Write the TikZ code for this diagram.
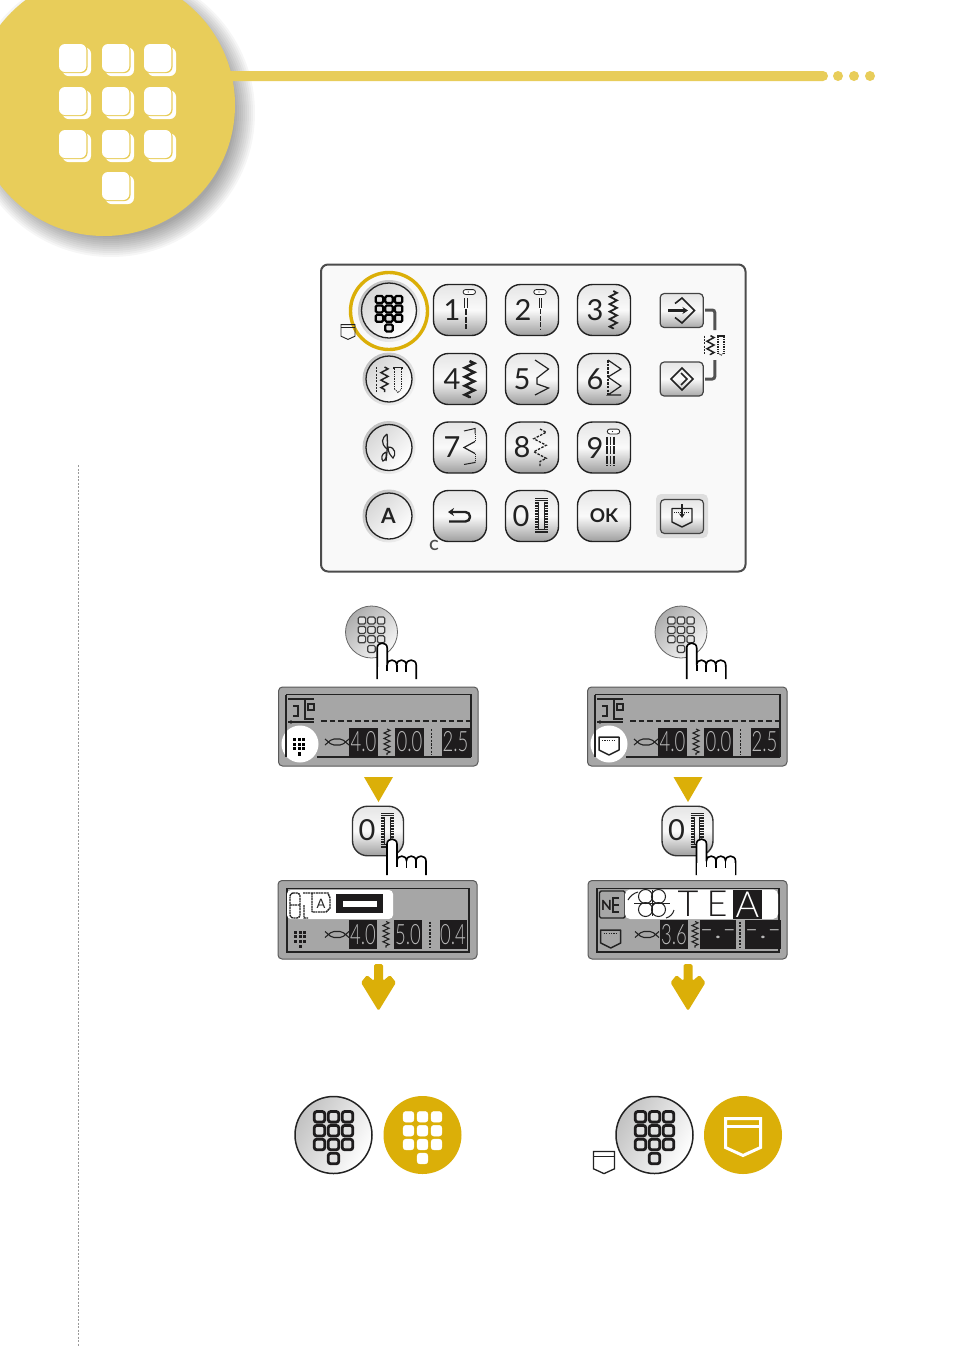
\documentclass[tikz,border=0pt]{standalone}
\usepackage{fontspec}
\setmainfont{Lato}
\newfontfamily\thinfont{Lato}[UprightFont=* Light]
\usetikzlibrary{arrows.meta,decorations.pathmorphing}
\definecolor{hdyellow}{HTML}{E8CD5A}
\definecolor{gold}{HTML}{DBAF08}
\definecolor{inkdark}{HTML}{222222}
\definecolor{lcdgrey}{HTML}{A6A6A6}
\definecolor{lcdblack}{HTML}{1E1C1D}
\newcommand{\keyfont}{\fontsize{29}{29}\selectfont}
\newcommand{\lcdnum}[1]{\scalebox{.66}[1]{\thinfont\fontsize{28}{28}\selectfont #1}}
\newcommand{\lcdbar}[1]{\scalebox{1.35}[1]{\thinfont\fontsize{28}{28}\selectfont #1}}
\tikzset{
  sqbtn/.style={draw=inkdark,line width=1.4pt,rounded corners=15pt,minimum width=53pt,minimum height=51pt,top color=white!90!black,bottom color=white!62!black,middle color=white!98!black,inner sep=0pt},
  rdbtn/.style={circle,draw=inkdark,line width=1.3pt,minimum size=#1,shading=axis,left color=white!84!black,right color=white,shading angle=45,inner sep=0pt},
  halo/.style={circle,shading=axis,left color=white!76!black,right color=white!94!black,shading angle=45,minimum size=#1,inner sep=0pt},
  smallbtn/.style={draw=inkdark!85,line width=1.2pt,rounded corners=4pt,minimum width=43pt,minimum height=34pt,top color=white!90!black,bottom color=white!66!black,middle color=white!98!black,inner sep=0pt},
  keydigit/.style={font=\keyfont,inner sep=0pt,text=inkdark},
  lcdbody/.style={draw=black!65,line width=1pt,fill=lcdgrey,rounded corners=4pt},
  lcdinner/.style={draw=inkdark,line width=1.1pt},
  lcdblock/.style={fill=lcdblack,text=white!72!black,minimum width=#1,minimum height=29pt,inner sep=0pt},
  zig/.style 2 args={decorate,decoration={zigzag,segment length=#1,amplitude=#2}},
  keypad/.pic={
    \foreach \cx/\cy in {-14/-17.7,0/-17.7,14/-17.7,-14/-3.8,0/-3.8,14/-3.8,-14/10,0/10,14/10,0/24}
      \draw[pic actions,rounded corners=2.6pt] (\cx-5.3,\cy-5.3) rectangle (\cx+5.3,\cy+5.3);
  },
  keypadsmall/.pic={
    \foreach \cx/\cy in {-9.6/-12,0/-12,9.6/-12,-9.6/-2.6,0/-2.6,9.6/-2.6,-9.6/6.8,0/6.8,9.6/6.8,0/16.4}
      \draw[pic actions,rounded corners=1.4pt] (\cx-3.7,\cy-3.5) rectangle (\cx+3.7,\cy+3.5);
  },
  pocket/.pic={
    \draw[pic actions,line join=miter] (-17.5,-16) -- (17.5,-16) -- (17.5,13) -- (0,21) -- (-17.5,13) -- cycle;
    \draw[pic actions] (-17.5,-8) -- (17.5,-8);
  },
  needlepill/.pic={\draw[inkdark,line width=.8pt,fill=white,rounded corners=2.4pt] (-6.2,-2.4) rectangle (6.2,2.4);
    \fill[inkdark] (-1,0) circle[radius=.6pt];},
  stitchmode/.pic={
    \draw[inkdark,line width=1.2pt,dash pattern=on 2pt off 1.3pt] (-12.5,-12) -- (-12.5,13);
    \draw[inkdark,line width=1.5pt,zig={7.5pt}{3.5pt}] (-4.5,-12) -- (-4.5,13);
    \draw[inkdark,line width=1.6pt] (5,-10) -- (5,-11.5) -- (13,-11.5) -- (13,-10);
    \draw[inkdark,line width=1.6pt,dash pattern=on 1pt off .7pt] (5.5,-10) -- (5.5,10) (12.5,-10) -- (12.5,10);
    \draw[inkdark,line width=.8pt,dash pattern=on 1pt off 1pt] (5.5,10) -- (9,13.5) -- (12.5,10);
  },
  zerohole/.pic={
    \draw[inkdark,line width=1.3pt] (3,-17.6) -- (16,-17.6) (3,-15.4) -- (16,-15.4) (3,13.4) -- (16,13.4) (3,16) -- (16,16);
    \draw[inkdark,line width=3.2pt,dash pattern=on .9pt off .7pt] (4.6,-14.5) -- (4.6,12.5) (14.4,-14.5) -- (14.4,12.5);
    \draw[inkdark,line width=.9pt] (6.6,-14.5) -- (6.6,12.5) (12.4,-14.5) -- (12.4,12.5);
  },
  handpic/.pic={
    \filldraw[black,fill=white,line width=1.6pt,line join=round]
      (0,0) -- (0,-31) .. controls (0,-37.5) and (10,-37.5) .. (10,-31) -- (10,-14)
      .. controls (10,-20.5) and (19.5,-20.5) .. (19.5,-14)
      .. controls (19.5,-20.5) and (29,-20.5) .. (29,-14)
      .. controls (29,-20.5) and (39,-20.5) .. (39,-14) -- (39,0);
    \fill[white] (.8,0) rectangle (38.2,-12);
    \draw[black,line width=1.6pt] (10,-14) -- (10,-8) (19.5,-14) -- (19.5,-7) (29,-14) -- (29,-7);
  },
  xox/.pic={
    \draw[inkdark,line width=1.1pt,rounded corners=2pt] (-12,3) -- (-5,-3) -- (5,-3) -- (12,3) (-12,-3) -- (-5,3) -- (5,3) -- (12,-3);
  },
  lcdzig/.pic={\draw[inkdark,line width=1.1pt,zig={5.4pt}{3pt}] (0,-13) -- (0,13);},
  lcddots/.pic={\draw[inkdark,line width=1.3pt,dash pattern=on 2.2pt off 1.4pt] (0,-13) -- (0,13);},
  minipad/.pic={
    \foreach \px in {-6,-1.3,3.4} \foreach \py in {-6,-1.3,3.4}
      \fill[pic actions] (\px,\py) rectangle (\px+3,\py+3);
    \fill[pic actions] (-1.3,8) rectangle (1.7,11.5);
  },
  footicon/.pic={
    \draw[inkdark,line width=1.5pt] (-13,-12) -- (13,-12) (-8,-5) -- (-3,-5) -- (-3,5) -- (-8,5) (4,-12) -- (4,8) -- (13,8)
      (7,-7) rectangle (13,-1) (-13,11) -- (13,11);
    \fill[inkdark] (-10,11) circle[radius=1.9pt];
  },
  lcdpocket/.pic={
    \draw[inkdark,line width=1.5pt,line join=round] (-10,-8) -- (10,-8) -- (10,5) -- (0,10) -- (-10,5) -- cycle;
    \draw[inkdark,line width=.9pt,dash pattern=on 1.2pt off 1.2pt] (-7,-4.5) -- (7,-4.5);
  }
}
\begin{document}
\begin{tikzpicture}[x=1pt,y=-1pt]
\clip (0,0) rectangle (954,1347);
\fill[white] (0,0) rectangle (954,1347);
% header
\foreach \r in {124,126,...,144}
  \fill[black,opacity=.035] (111,113) circle[radius=\r pt];
\fill[hdyellow,rounded corners=5pt] (200,71) rectangle (828,81);
\fill[hdyellow] (104,105) circle[radius=131pt];
\foreach \dx in {838,854,870}
  \fill[hdyellow] (\dx,76) circle[radius=5pt];
\foreach \kx/\ky in {59/44,102/44,144/44,59/87,102/87,144/87,59/130,102/130,144/130,102/172}{
  \fill[white,rounded corners=6pt] (\kx+3.5,\ky+3.5) rectangle (\kx+32,\ky+32);
  \fill[hdyellow,rounded corners=6pt] (\kx,\ky) rectangle (\kx+28.5,\ky+29);
  \fill[white,rounded corners=6pt] (\kx,\ky) rectangle (\kx+27.3,\ky+28);
}
% margin rule
\draw[black!40,line width=.5pt,dash pattern=on 2pt off 1.5pt] (78,465) -- (78,1347);

% control panel
\draw[black!70,line width=2pt,fill=white!97.5!black,rounded corners=7pt] (321,264.5) rectangle (745.5,571.5);
\node[halo=62pt] (h1) at (389,311) {};
\node[rdbtn=55pt] (mode1) at (389,310.5) {};
\pic[draw=black,fill=white!88!black,line width=2.2pt] at (389,311.5) {keypadsmall};
\draw[gold,line width=3.4pt] (389,311) circle[radius=38.5pt];
\pic[draw=inkdark,line width=.9pt,scale=.4] at (348,331) {pocket};
\foreach \ry/\nm in {379/mode2,447.5/mode3,516/mode4}{
  \node[halo=53pt] (h\nm) at (389,\ry) {};
  \node[rdbtn=46pt] (\nm) at (389,\ry) {};
}
\pic at (389,379) {stitchmode};
\draw[inkdark,line width=1.3pt] (386,461) .. controls (387,452) and (388,445) .. (387,434);
\draw[inkdark,line width=1.2pt] (387,449) .. controls (380,443) and (382,438) .. (387,434);
\draw[inkdark,line width=1.2pt] (388,447) .. controls (396,447) and (396,455) .. (393,458) .. controls (390,455) and (388,452) .. (388,447);
\draw[inkdark,line width=1.2pt] (386,452) .. controls (381,454) and (381,459) .. (383,461) .. controls (386,460) and (387,456) .. (386,452);
\node[font=\bfseries\fontsize{21}{21}\selectfont,text=inkdark,inner sep=0pt] (lblA) at (388.5,516) {A};

\foreach \nm/\lbl/\bx/\by/\off in {b1/1/460/310/-8,b2/2/532/310/-9,b3/3/604/310/-9,b4/4/460/379/-8,b5/5/532/379/-10,b6/6/604/379/-9,b7/7/460/447.5/-8,b8/8/532/447.5/-10,b9/9/604/447.5/-9,b0/0/532/516/-11}{
  \node[sqbtn] (\nm) at (\bx,\by) {};
  \node[keydigit] (t\nm) at (\bx+\off,\by) {\lbl};
}
\node[sqbtn] (back) at (460,516) {};
\node[sqbtn] (ok) at (604,516) {};
\node[font=\bfseries\fontsize{19}{19}\selectfont,text=inkdark,inner sep=0pt] (lblok) at (604,515.5) {OK};
\draw[inkdark,line width=2.4pt,{Stealth[length=6pt,width=8pt]}-,rounded corners=4.5pt] (448,512) -- (470,512) -- (470,521.5) -- (449,521.5);
\node[font=\bfseries\fontsize{14}{14}\selectfont,text=black!70,inner sep=0pt] (lblc) at (434,545) {C};

\begin{scope}[shift={(460,310)}]
  \pic at (9.3,-18) {needlepill};
  \draw[inkdark,line width=1pt] (4.6,-12) -- (4.6,-2.5) (7,-12) -- (7,-2.5);
  \draw[inkdark,line width=1.7pt,dash pattern=on 6pt off 1.5pt] (5.7,-1) -- (5.7,19);
\end{scope}
\begin{scope}[shift={(532,310)}]
  \pic at (8,-18) {needlepill};
  \draw[inkdark,line width=.9pt] (7.3,-12) -- (7.3,-2.5) (9.3,-12) -- (9.3,-2.5);
  \draw[inkdark,line width=1pt,dash pattern=on 5pt off 1.5pt] (8.3,-1) -- (8.3,19);
\end{scope}
\draw[inkdark,line width=1.8pt,zig={7.5pt}{3.6pt}] (613.3,291) -- (613.3,329);
\draw[inkdark,line width=2.6pt,zig={9pt}{4.6pt}] (469.5,361) -- (469.5,398);
\begin{scope}[shift={(532,379)}]
  \draw[inkdark,line width=1.2pt,line join=miter] (3,-19) -- (16.5,-10) -- (5,-1) -- (5,5) -- (16.5,9) -- (3,16);
\end{scope}
\begin{scope}[shift={(604,379)}]
  \draw[inkdark,line width=1.1pt,dash pattern=on 2.5pt off 1.2pt] (4,-19) -- (4,16);
  \draw[inkdark,line width=1.2pt] (4,-19) -- (17,-10) -- (4,-2) -- (17,7) -- (4,16) -- (17,16);
\end{scope}
\begin{scope}[shift={(460,447.5)}]
  \draw[inkdark,line width=1pt] (4,-16.5) -- (15,-19) -- (15,-14);
  \draw[inkdark,line width=.8pt,dash pattern=on 1pt off 1pt] (15,-14) -- (15,-6) (15,6) -- (15,14);
  \draw[inkdark,line width=1.2pt] (15,-6) -- (4,0) -- (15,6);
  \draw[inkdark,line width=1pt] (4,17) -- (15,15) -- (15,14);
\end{scope}
\draw[inkdark,line width=1.3pt,dash pattern=on 2.5pt off 1.3pt,zig={13pt}{6.2pt}] (540,429) -- (540,466);
\begin{scope}[shift={(604,447.5)}]
  \pic at (9.5,-16) {needlepill};
  \draw[inkdark,line width=1.5pt,dash pattern=on 8pt off 1.5pt] (3.2,-11) -- (3.2,18) (6.5,-11) -- (6.5,18) (9.8,-11) -- (9.8,18);
\end{scope}
\pic at (532,516) {zerohole};

% program buttons
\node[smallbtn] (prev) at (681.7,310.5) {};
\node[smallbtn] (next) at (681.7,379) {};
\draw[inkdark,line width=1.6pt,line join=miter] (675,303.5) -- (682,298) -- (694.5,310.5) -- (682,323) -- (675,317.5);
\draw[inkdark,line width=2.2pt,-{Stealth[length=5.5pt,width=7pt]}] (668,310.5) -- (688,310.5);
\draw[inkdark,line width=1.6pt] (682,368) -- (693,379) -- (682,390) -- (671,379) -- cycle;
\draw[inkdark,line width=1.6pt] (681,373) -- (687,379) -- (681,385);
\draw[black!68,line width=3pt,rounded corners=2.5pt] (705,310) -- (714.8,310) -- (714.8,330);
\draw[black!68,line width=3pt,rounded corners=2.5pt] (714.8,360) -- (714.8,379) -- (705,379);
\pic[scale=.78] at (714,345) {stitchmode};

\fill[white!87!black,rounded corners=5pt] (656,494) rectangle (708,538);
\node[smallbtn] (mem) at (682,516.5) {};
\begin{scope}[shift={(682,516)}]
  \draw[inkdark,line width=1.4pt,line join=round] (-10,-7.5) -- (10,-7.5) -- (10,6) -- (0,11) -- (-10,6) -- cycle;
  \draw[inkdark,line width=1.6pt,-{Stealth[length=4.5pt,width=6pt]}] (0,-12) -- (0,2);
  \draw[inkdark,line width=.7pt,dash pattern=on 1pt off 1pt] (-8,-4) -- (8,-4);
\end{scope}

% column steps
\foreach \dx/\sd in {0/l,309.5/r}{
  \begin{scope}[shift={(\dx,0)}]
    \node[circle,draw=black!60,line width=.8pt,minimum size=52pt,shading=axis,left color=white!68!black,right color=white!97!black,shading angle=45,inner sep=0pt] (touch\sd) at (371.5,632) {};
    \pic[draw=black!75,fill=white!90!black,line width=1.2pt] at (371.5,632.5) {keypadsmall};
    \pic at (377.2,679) {handpic};
    \fill[gold] (364,777) -- (393,777) -- (378.5,802) -- cycle;
    \node[sqbtn,minimum width=51pt,minimum height=49.5pt,draw=black!80] (zero\sd) at (378,831) {};
    \node[keydigit] (tzero\sd) at (367,830.5) {0};
    \pic at (378,831) {zerohole};
    \pic at (387,875) {handpic};
    \fill[gold,rounded corners=1.5pt] (374,964) -- (383,964) -- (383,981) -- (390,975) -- (396,982.5) -- (378.5,1011) -- (361,982.5) -- (367,975) -- (374,981) -- cycle;
  \end{scope}
}

% lcd left top
\draw[lcdbody] (278.5,687) rectangle (478,766);
\fill[white] (300,744) circle[radius=18.5pt];
\draw[lcdinner] (286,694.5) -- (471,694.5) -- (471,757) (286,757) -- (286,694.5);
\draw[lcdinner] (317,757) -- (471,757);
\pic at (301,711) {footicon};
\draw[inkdark,line width=1.6pt,dash pattern=on 5.5pt off 3pt] (321,721) -- (471,721);
\pic[fill=black] at (299,744) {minipad};
\pic at (337,742) {xox};
\node[lcdblock=29pt] (la1) at (363.5,742) {\lcdnum{4.0}};
\node[lcdblock=29pt] (la2) at (409.5,742) {\lcdnum{0.0}};
\node[lcdblock=28pt] (la3) at (455.5,742) {\lcdnum{2.5}};
\pic at (387,742) {lcdzig};
\pic at (431.7,742) {lcddots};

% lcd right top
\draw[lcdbody] (587.5,687) rectangle (787,766);
\fill[white] (609,744) circle[radius=18.5pt];
\draw[lcdinner] (595,694.5) -- (780,694.5) -- (780,757) (595,757) -- (595,694.5);
\draw[lcdinner] (626,757) -- (780,757);
\pic at (610,711) {footicon};
\draw[inkdark,line width=1.6pt,dash pattern=on 5.5pt off 3pt] (630,721) -- (780,721);
\pic at (609,745) {lcdpocket};
\pic at (646,742) {xox};
\node[lcdblock=29pt] (lb1) at (672.5,742) {\lcdnum{4.0}};
\node[lcdblock=29pt] (lb2) at (718.5,742) {\lcdnum{0.0}};
\node[lcdblock=28pt] (lb3) at (764.5,742) {\lcdnum{2.5}};
\pic at (696,742) {lcdzig};
\pic at (740.7,742) {lcddots};

% lcd left bottom
\draw[lcdbody] (278,880.5) rectangle (477,959);
\draw[lcdinner] (287,888.5) rectangle (469,952);
\fill[white,rounded corners=4pt] (287,890) rectangle (393,919);
\draw[inkdark,line width=1.4pt,dash pattern=on 2pt off .6pt,rounded corners=3pt] (290,893) -- (300,893) -- (300,918) -- (290,918) -- cycle;
\draw[inkdark,line width=1.4pt,dash pattern=on 2pt off .6pt] (290,905) -- (300,905) (303,893) -- (328,893) -- (330,898) -- (330,908) -- (326,912) -- (312,912) (312,893) -- (312,912) (304,905) -- (304,918) -- (308,918);
\node[font=\fontsize{13}{13}\selectfont,text=inkdark,inner sep=0pt] (lca) at (321,904) {A};
\fill[lcdblack] (336,894) rectangle (383,913);
\fill[white] (343,901) rectangle (377,907);
\pic[fill=lcdblack] at (300,936.5) {minipad};
\pic at (337,934.5) {xox};
\node[lcdblock=28pt] (lc1) at (363,934.5) {\lcdnum{4.0}};
\node[lcdblock=28pt] (lc2) at (408,934.5) {\lcdnum{5.0}};
\node[lcdblock=27pt] (lc3) at (453,934.5) {\lcdnum{0.4}};
\pic at (386,934.5) {lcdzig};
\pic at (430,934.5) {lcddots};

% lcd right bottom
\draw[lcdbody] (588,880.5) rectangle (787,959);
\draw[lcdinner] (597,888.5) rectangle (779,952);
\draw[inkdark,line width=1.4pt,fill=lcdgrey,rounded corners=1.5pt] (599.5,891) rectangle (625,918);
\node[font=\bfseries\fontsize{14}{14}\selectfont,text=lcdblack,inner sep=0pt] (lcn) at (606.5,905) {N};
\draw[inkdark,line width=1.3pt] (612,898) -- (619,898) (613,898) -- (613,912) -- (619,912) (613,905) -- (619,905);
\fill[white,rounded corners=5pt] (625,889.5) rectangle (778,919);
\foreach \fx/\fy in {-6.5/-6.5,6.5/-6.5,-6.5/6.5,6.5/6.5}
  \draw[inkdark,line width=1pt] (652+\fx,903+\fy) circle[radius=7pt];
\draw[inkdark,line width=1pt] (652,890) -- (652,916) (634,903) -- (670,903);
\draw[inkdark,line width=1pt] (628,900) .. controls (630,896) and (634,893) .. (638,892);
\draw[inkdark,line width=1pt] (666,918) .. controls (670,917) and (673,914) .. (674,910);
\node[font=\thinfont\fontsize{36}{36}\selectfont,text=lcdblack,inner sep=0pt] (lct) at (688,904) {T};
\node[font=\thinfont\fontsize{36}{36}\selectfont,text=lcdblack,inner sep=0pt] (lce) at (717,904) {E};
\node[fill=lcdblack,text=white,font=\thinfont\fontsize{36}{36}\selectfont,minimum width=29pt,minimum height=29pt,inner sep=0pt] (lcaa) at (747.5,904.5) {A};
\pic at (610.7,938) {lcdpocket};
\pic at (647,934.5) {xox};
\node[lcdblock=28pt] (ld1) at (674,934.5) {\lcdnum{3.6}};
\node[lcdblock=28pt] (ld2) at (718,934.5) {\lcdbar{-.-}};
\node[lcdblock=28pt] (ld3) at (763,934.5) {\lcdbar{-.-}};
\pic at (695,934.5) {lcdzig};
\pic at (740,934.5) {lcddots};

% result icons
\foreach \bx/\nm in {333.5/resl,654.5/resr}{
  \node[circle,draw=inkdark,line width=1.5pt,minimum size=77pt,shading=axis,left color=white!76!black,right color=white,shading angle=60,inner sep=0pt] (\nm) at (\bx,1135) {};
  \pic[draw=lcdblack,fill=white!88!black,line width=2.8pt] at (\bx,1134.5) {keypad};
}
\node[circle,fill=gold,minimum size=78pt,inner sep=0pt] (sell) at (422.5,1135) {};
\pic[fill=white,draw=white,line width=.5pt] at (422.5,1134.5) {keypad};
\node[circle,fill=gold,minimum size=78pt,inner sep=0pt] (selr) at (743,1135) {};
\pic[draw=white,line width=3pt] at (743,1134.5) {pocket};
\pic[draw=inkdark,line width=1.3pt,fill=white,scale=.6] at (604,1161) {pocket};
\end{tikzpicture}
\end{document}
